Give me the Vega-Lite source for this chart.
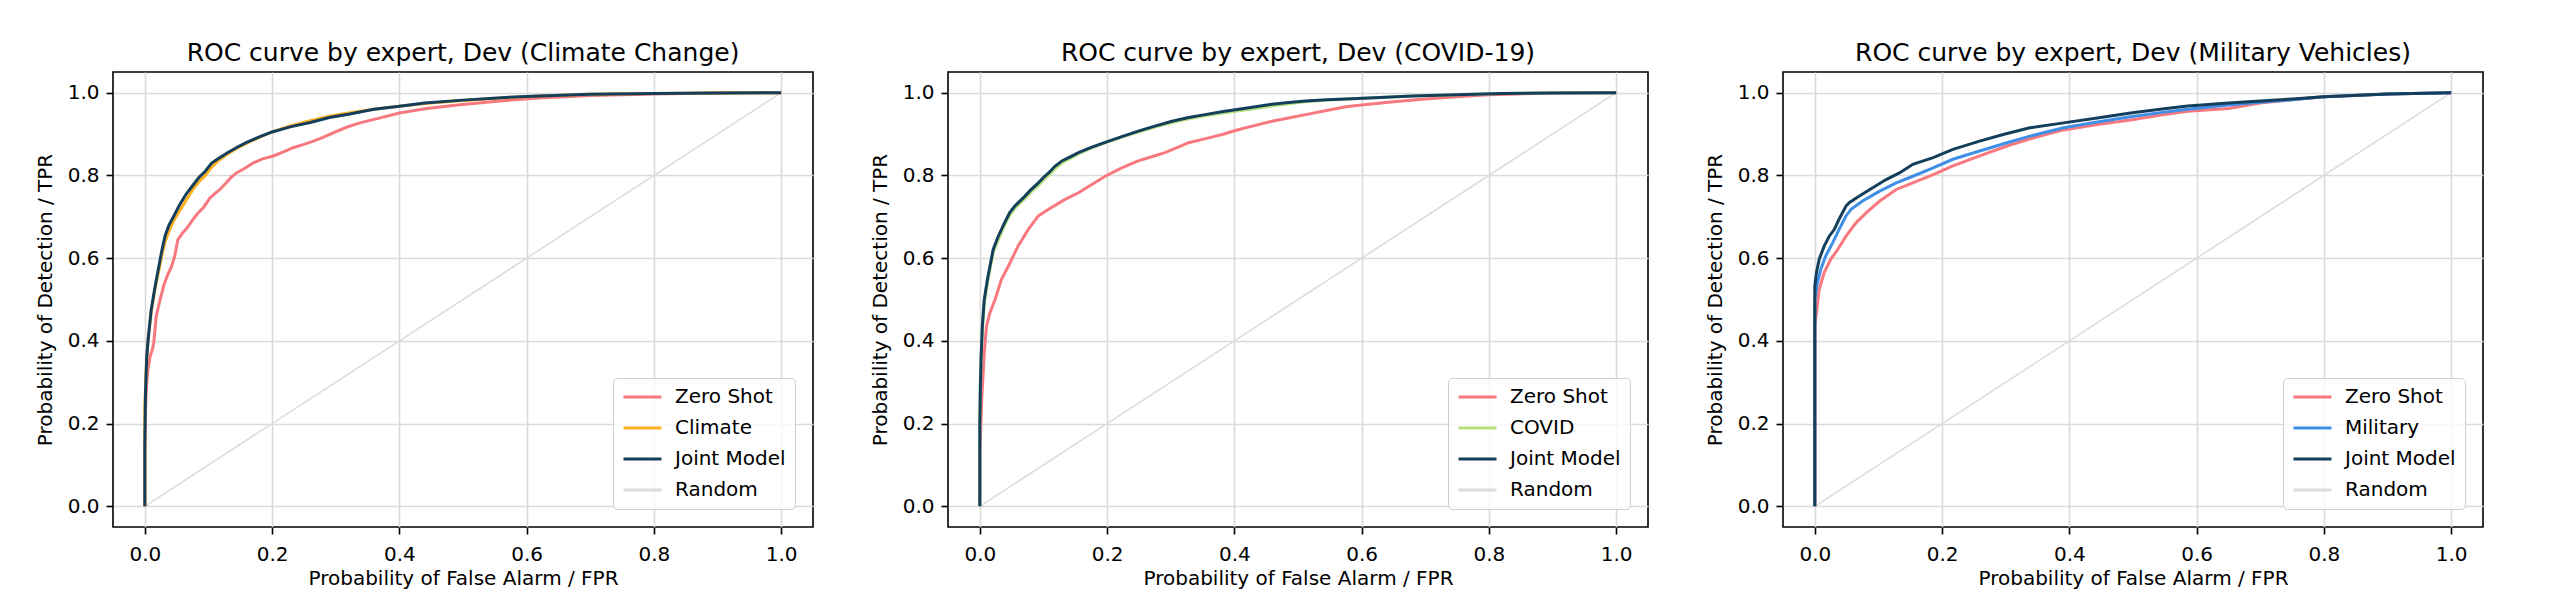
{
"$schema": "https://vega.github.io/schema/vega-lite/v6.json",
"padding": {"left": 34, "top": 40, "right": 86, "bottom": 12},
"background": "white",
"spacing": 135,
"bounds": "flush",
"config": {
  "font": "DejaVu Sans",
  "view": {"stroke": "#000000", "strokeWidth": 1.6},
  "title": {"font": "DejaVu Sans", "fontSize": 25, "fontWeight": "normal", "color": "#000000", "anchor": "middle", "baseline": "alphabetic", "offset": 6},
  "axis": {"labelFont": "DejaVu Sans", "labelFontSize": 20, "labelColor": "#000000", "titleFont": "DejaVu Sans", "titleFontSize": 20, "titleFontWeight": "normal", "titleColor": "#000000", "domain": false, "tickColor": "#000000", "tickWidth": 1.6, "tickSize": 7, "labelPadding": 7, "gridColor": "#dadada", "gridWidth": 1.6},
  "axisX": {"titlePadding": 4, "labelPadding": 10},
  "axisY": {"titlePadding": 12},
  "legend": {"title": null, "orient": "bottom-right", "offset": 18, "symbolType": "stroke", "symbolSize": 1444, "symbolStrokeWidth": 3, "labelFont": "DejaVu Sans", "labelFontSize": 20, "labelColor": "#000000", "padding": 9, "rowPadding": 11, "clipHeight": 20, "labelOffset": 12, "fillColor": "rgba(255,255,255,0.8)", "strokeColor": "#d0d0d0", "cornerRadius": 4}
},
"datasets": {
"climate": [
{"model":"Random","fpr":0,"tpr":0},{"model":"Random","fpr":1,"tpr":1},
{"model":"Zero Shot","fpr":0,"tpr":0},{"model":"Zero Shot","fpr":0,"tpr":0.12},{"model":"Zero Shot","fpr":0.001,"tpr":0.23},{"model":"Zero Shot","fpr":0.003,"tpr":0.3},{"model":"Zero Shot","fpr":0.005,"tpr":0.33},{"model":"Zero Shot","fpr":0.008,"tpr":0.36},{"model":"Zero Shot","fpr":0.012,"tpr":0.38},{"model":"Zero Shot","fpr":0.014,"tpr":0.395},{"model":"Zero Shot","fpr":0.018,"tpr":0.46},{"model":"Zero Shot","fpr":0.024,"tpr":0.5},{"model":"Zero Shot","fpr":0.03,"tpr":0.535},{"model":"Zero Shot","fpr":0.036,"tpr":0.56},{"model":"Zero Shot","fpr":0.042,"tpr":0.58},{"model":"Zero Shot","fpr":0.047,"tpr":0.605},{"model":"Zero Shot","fpr":0.052,"tpr":0.645},{"model":"Zero Shot","fpr":0.06,"tpr":0.662},{"model":"Zero Shot","fpr":0.066,"tpr":0.672},{"model":"Zero Shot","fpr":0.076,"tpr":0.694},{"model":"Zero Shot","fpr":0.084,"tpr":0.71},{"model":"Zero Shot","fpr":0.092,"tpr":0.722},{"model":"Zero Shot","fpr":0.102,"tpr":0.745},{"model":"Zero Shot","fpr":0.11,"tpr":0.756},{"model":"Zero Shot","fpr":0.118,"tpr":0.766},{"model":"Zero Shot","fpr":0.128,"tpr":0.782},{"model":"Zero Shot","fpr":0.136,"tpr":0.796},{"model":"Zero Shot","fpr":0.144,"tpr":0.806},{"model":"Zero Shot","fpr":0.158,"tpr":0.818},{"model":"Zero Shot","fpr":0.17,"tpr":0.83},{"model":"Zero Shot","fpr":0.185,"tpr":0.84},{"model":"Zero Shot","fpr":0.202,"tpr":0.847},{"model":"Zero Shot","fpr":0.218,"tpr":0.857},{"model":"Zero Shot","fpr":0.233,"tpr":0.867},{"model":"Zero Shot","fpr":0.25,"tpr":0.875},{"model":"Zero Shot","fpr":0.265,"tpr":0.883},{"model":"Zero Shot","fpr":0.28,"tpr":0.892},{"model":"Zero Shot","fpr":0.296,"tpr":0.903},{"model":"Zero Shot","fpr":0.318,"tpr":0.917},{"model":"Zero Shot","fpr":0.338,"tpr":0.927},{"model":"Zero Shot","fpr":0.37,"tpr":0.939},{"model":"Zero Shot","fpr":0.4,"tpr":0.951},{"model":"Zero Shot","fpr":0.443,"tpr":0.962},{"model":"Zero Shot","fpr":0.495,"tpr":0.971},{"model":"Zero Shot","fpr":0.558,"tpr":0.98},{"model":"Zero Shot","fpr":0.62,"tpr":0.987},{"model":"Zero Shot","fpr":0.7,"tpr":0.993},{"model":"Zero Shot","fpr":0.8,"tpr":0.997},{"model":"Zero Shot","fpr":0.9,"tpr":0.999},{"model":"Zero Shot","fpr":1,"tpr":1},
{"model":"Climate","fpr":0,"tpr":0},{"model":"Climate","fpr":0,"tpr":0.24},{"model":"Climate","fpr":0.002,"tpr":0.33},{"model":"Climate","fpr":0.005,"tpr":0.4},{"model":"Climate","fpr":0.01,"tpr":0.47},{"model":"Climate","fpr":0.016,"tpr":0.525},{"model":"Climate","fpr":0.022,"tpr":0.57},{"model":"Climate","fpr":0.027,"tpr":0.61},{"model":"Climate","fpr":0.032,"tpr":0.64},{"model":"Climate","fpr":0.038,"tpr":0.665},{"model":"Climate","fpr":0.045,"tpr":0.69},{"model":"Climate","fpr":0.055,"tpr":0.715},{"model":"Climate","fpr":0.065,"tpr":0.74},{"model":"Climate","fpr":0.075,"tpr":0.765},{"model":"Climate","fpr":0.085,"tpr":0.785},{"model":"Climate","fpr":0.095,"tpr":0.8},{"model":"Climate","fpr":0.105,"tpr":0.82},{"model":"Climate","fpr":0.115,"tpr":0.835},{"model":"Climate","fpr":0.13,"tpr":0.852},{"model":"Climate","fpr":0.145,"tpr":0.866},{"model":"Climate","fpr":0.16,"tpr":0.878},{"model":"Climate","fpr":0.18,"tpr":0.892},{"model":"Climate","fpr":0.2,"tpr":0.905},{"model":"Climate","fpr":0.23,"tpr":0.92},{"model":"Climate","fpr":0.26,"tpr":0.932},{"model":"Climate","fpr":0.29,"tpr":0.943},{"model":"Climate","fpr":0.32,"tpr":0.951},{"model":"Climate","fpr":0.36,"tpr":0.96},{"model":"Climate","fpr":0.4,"tpr":0.967},{"model":"Climate","fpr":0.44,"tpr":0.974},{"model":"Climate","fpr":0.5,"tpr":0.981},{"model":"Climate","fpr":0.56,"tpr":0.987},{"model":"Climate","fpr":0.62,"tpr":0.992},{"model":"Climate","fpr":0.7,"tpr":0.996},{"model":"Climate","fpr":0.8,"tpr":0.998},{"model":"Climate","fpr":0.9,"tpr":0.999},{"model":"Climate","fpr":1,"tpr":1},
{"model":"Joint Model","fpr":0,"tpr":0},{"model":"Joint Model","fpr":0,"tpr":0.15},{"model":"Joint Model","fpr":0.001,"tpr":0.27},{"model":"Joint Model","fpr":0.003,"tpr":0.36},{"model":"Joint Model","fpr":0.005,"tpr":0.4},{"model":"Joint Model","fpr":0.01,"tpr":0.475},{"model":"Joint Model","fpr":0.016,"tpr":0.53},{"model":"Joint Model","fpr":0.022,"tpr":0.58},{"model":"Joint Model","fpr":0.027,"tpr":0.62},{"model":"Joint Model","fpr":0.032,"tpr":0.655},{"model":"Joint Model","fpr":0.038,"tpr":0.68},{"model":"Joint Model","fpr":0.045,"tpr":0.7},{"model":"Joint Model","fpr":0.055,"tpr":0.73},{"model":"Joint Model","fpr":0.065,"tpr":0.755},{"model":"Joint Model","fpr":0.075,"tpr":0.775},{"model":"Joint Model","fpr":0.085,"tpr":0.795},{"model":"Joint Model","fpr":0.095,"tpr":0.81},{"model":"Joint Model","fpr":0.105,"tpr":0.83},{"model":"Joint Model","fpr":0.115,"tpr":0.84},{"model":"Joint Model","fpr":0.13,"tpr":0.855},{"model":"Joint Model","fpr":0.145,"tpr":0.868},{"model":"Joint Model","fpr":0.16,"tpr":0.88},{"model":"Joint Model","fpr":0.18,"tpr":0.893},{"model":"Joint Model","fpr":0.2,"tpr":0.905},{"model":"Joint Model","fpr":0.23,"tpr":0.918},{"model":"Joint Model","fpr":0.26,"tpr":0.928},{"model":"Joint Model","fpr":0.29,"tpr":0.94},{"model":"Joint Model","fpr":0.32,"tpr":0.948},{"model":"Joint Model","fpr":0.36,"tpr":0.96},{"model":"Joint Model","fpr":0.4,"tpr":0.967},{"model":"Joint Model","fpr":0.44,"tpr":0.975},{"model":"Joint Model","fpr":0.5,"tpr":0.982},{"model":"Joint Model","fpr":0.56,"tpr":0.988},{"model":"Joint Model","fpr":0.62,"tpr":0.992},{"model":"Joint Model","fpr":0.7,"tpr":0.996},{"model":"Joint Model","fpr":0.8,"tpr":0.998},{"model":"Joint Model","fpr":0.9,"tpr":0.999},{"model":"Joint Model","fpr":1,"tpr":1}
],
"covid": [
{"model":"Random","fpr":0,"tpr":0},{"model":"Random","fpr":1,"tpr":1},
{"model":"Zero Shot","fpr":0,"tpr":0},{"model":"Zero Shot","fpr":0,"tpr":0.12},{"model":"Zero Shot","fpr":0.003,"tpr":0.26},{"model":"Zero Shot","fpr":0.007,"tpr":0.371},{"model":"Zero Shot","fpr":0.0105,"tpr":0.436},{"model":"Zero Shot","fpr":0.016,"tpr":0.468},{"model":"Zero Shot","fpr":0.024,"tpr":0.5},{"model":"Zero Shot","fpr":0.034,"tpr":0.549},{"model":"Zero Shot","fpr":0.045,"tpr":0.581},{"model":"Zero Shot","fpr":0.06,"tpr":0.629},{"model":"Zero Shot","fpr":0.076,"tpr":0.669},{"model":"Zero Shot","fpr":0.092,"tpr":0.702},{"model":"Zero Shot","fpr":0.108,"tpr":0.718},{"model":"Zero Shot","fpr":0.134,"tpr":0.742},{"model":"Zero Shot","fpr":0.155,"tpr":0.758},{"model":"Zero Shot","fpr":0.176,"tpr":0.778},{"model":"Zero Shot","fpr":0.197,"tpr":0.798},{"model":"Zero Shot","fpr":0.223,"tpr":0.818},{"model":"Zero Shot","fpr":0.249,"tpr":0.835},{"model":"Zero Shot","fpr":0.27,"tpr":0.845},{"model":"Zero Shot","fpr":0.291,"tpr":0.855},{"model":"Zero Shot","fpr":0.31,"tpr":0.867},{"model":"Zero Shot","fpr":0.328,"tpr":0.879},{"model":"Zero Shot","fpr":0.355,"tpr":0.889},{"model":"Zero Shot","fpr":0.381,"tpr":0.899},{"model":"Zero Shot","fpr":0.407,"tpr":0.911},{"model":"Zero Shot","fpr":0.433,"tpr":0.921},{"model":"Zero Shot","fpr":0.459,"tpr":0.931},{"model":"Zero Shot","fpr":0.485,"tpr":0.939},{"model":"Zero Shot","fpr":0.512,"tpr":0.947},{"model":"Zero Shot","fpr":0.545,"tpr":0.957},{"model":"Zero Shot","fpr":0.575,"tpr":0.966},{"model":"Zero Shot","fpr":0.6,"tpr":0.97},{"model":"Zero Shot","fpr":0.65,"tpr":0.978},{"model":"Zero Shot","fpr":0.7,"tpr":0.985},{"model":"Zero Shot","fpr":0.75,"tpr":0.99},{"model":"Zero Shot","fpr":0.8,"tpr":0.995},{"model":"Zero Shot","fpr":0.9,"tpr":0.999},{"model":"Zero Shot","fpr":1,"tpr":1},
{"model":"COVID","fpr":0,"tpr":0},{"model":"COVID","fpr":0,"tpr":0.2},{"model":"COVID","fpr":0.001,"tpr":0.3},{"model":"COVID","fpr":0.002,"tpr":0.355},{"model":"COVID","fpr":0.004,"tpr":0.43},{"model":"COVID","fpr":0.007,"tpr":0.49},{"model":"COVID","fpr":0.012,"tpr":0.54},{"model":"COVID","fpr":0.016,"tpr":0.574},{"model":"COVID","fpr":0.021,"tpr":0.613},{"model":"COVID","fpr":0.029,"tpr":0.645},{"model":"COVID","fpr":0.039,"tpr":0.68},{"model":"COVID","fpr":0.047,"tpr":0.704},{"model":"COVID","fpr":0.055,"tpr":0.72},{"model":"COVID","fpr":0.063,"tpr":0.732},{"model":"COVID","fpr":0.071,"tpr":0.744},{"model":"COVID","fpr":0.08,"tpr":0.759},{"model":"COVID","fpr":0.092,"tpr":0.776},{"model":"COVID","fpr":0.1,"tpr":0.789},{"model":"COVID","fpr":0.108,"tpr":0.8},{"model":"COVID","fpr":0.118,"tpr":0.816},{"model":"COVID","fpr":0.129,"tpr":0.83},{"model":"COVID","fpr":0.142,"tpr":0.841},{"model":"COVID","fpr":0.155,"tpr":0.852},{"model":"COVID","fpr":0.175,"tpr":0.866},{"model":"COVID","fpr":0.197,"tpr":0.879},{"model":"COVID","fpr":0.222,"tpr":0.892},{"model":"COVID","fpr":0.249,"tpr":0.905},{"model":"COVID","fpr":0.275,"tpr":0.917},{"model":"COVID","fpr":0.302,"tpr":0.928},{"model":"COVID","fpr":0.328,"tpr":0.937},{"model":"COVID","fpr":0.354,"tpr":0.944},{"model":"COVID","fpr":0.38,"tpr":0.95},{"model":"COVID","fpr":0.407,"tpr":0.956},{"model":"COVID","fpr":0.433,"tpr":0.962},{"model":"COVID","fpr":0.459,"tpr":0.968},{"model":"COVID","fpr":0.485,"tpr":0.973},{"model":"COVID","fpr":0.512,"tpr":0.978},{"model":"COVID","fpr":0.545,"tpr":0.982},{"model":"COVID","fpr":0.575,"tpr":0.985},{"model":"COVID","fpr":0.62,"tpr":0.988},{"model":"COVID","fpr":0.68,"tpr":0.992},{"model":"COVID","fpr":0.75,"tpr":0.995},{"model":"COVID","fpr":0.82,"tpr":0.998},{"model":"COVID","fpr":0.9,"tpr":0.999},{"model":"COVID","fpr":1,"tpr":1},
{"model":"Joint Model","fpr":0,"tpr":0},{"model":"Joint Model","fpr":0,"tpr":0.2},{"model":"Joint Model","fpr":0.001,"tpr":0.3},{"model":"Joint Model","fpr":0.002,"tpr":0.36},{"model":"Joint Model","fpr":0.004,"tpr":0.436},{"model":"Joint Model","fpr":0.007,"tpr":0.5},{"model":"Joint Model","fpr":0.012,"tpr":0.549},{"model":"Joint Model","fpr":0.016,"tpr":0.581},{"model":"Joint Model","fpr":0.021,"tpr":0.621},{"model":"Joint Model","fpr":0.029,"tpr":0.653},{"model":"Joint Model","fpr":0.039,"tpr":0.686},{"model":"Joint Model","fpr":0.047,"tpr":0.71},{"model":"Joint Model","fpr":0.055,"tpr":0.726},{"model":"Joint Model","fpr":0.063,"tpr":0.738},{"model":"Joint Model","fpr":0.071,"tpr":0.75},{"model":"Joint Model","fpr":0.08,"tpr":0.765},{"model":"Joint Model","fpr":0.092,"tpr":0.782},{"model":"Joint Model","fpr":0.1,"tpr":0.795},{"model":"Joint Model","fpr":0.108,"tpr":0.806},{"model":"Joint Model","fpr":0.118,"tpr":0.822},{"model":"Joint Model","fpr":0.129,"tpr":0.835},{"model":"Joint Model","fpr":0.142,"tpr":0.845},{"model":"Joint Model","fpr":0.155,"tpr":0.855},{"model":"Joint Model","fpr":0.175,"tpr":0.868},{"model":"Joint Model","fpr":0.197,"tpr":0.88},{"model":"Joint Model","fpr":0.222,"tpr":0.893},{"model":"Joint Model","fpr":0.249,"tpr":0.907},{"model":"Joint Model","fpr":0.275,"tpr":0.919},{"model":"Joint Model","fpr":0.302,"tpr":0.931},{"model":"Joint Model","fpr":0.328,"tpr":0.94},{"model":"Joint Model","fpr":0.354,"tpr":0.947},{"model":"Joint Model","fpr":0.38,"tpr":0.954},{"model":"Joint Model","fpr":0.407,"tpr":0.96},{"model":"Joint Model","fpr":0.433,"tpr":0.966},{"model":"Joint Model","fpr":0.459,"tpr":0.972},{"model":"Joint Model","fpr":0.485,"tpr":0.976},{"model":"Joint Model","fpr":0.512,"tpr":0.98},{"model":"Joint Model","fpr":0.545,"tpr":0.983},{"model":"Joint Model","fpr":0.575,"tpr":0.985},{"model":"Joint Model","fpr":0.62,"tpr":0.988},{"model":"Joint Model","fpr":0.68,"tpr":0.992},{"model":"Joint Model","fpr":0.75,"tpr":0.995},{"model":"Joint Model","fpr":0.82,"tpr":0.998},{"model":"Joint Model","fpr":0.9,"tpr":0.999},{"model":"Joint Model","fpr":1,"tpr":1}
],
"military": [
{"model":"Random","fpr":0,"tpr":0},{"model":"Random","fpr":1,"tpr":1},
{"model":"Zero Shot","fpr":0,"tpr":0},{"model":"Zero Shot","fpr":0,"tpr":0.436},{"model":"Zero Shot","fpr":0.0026,"tpr":0.468},{"model":"Zero Shot","fpr":0.0068,"tpr":0.524},{"model":"Zero Shot","fpr":0.0147,"tpr":0.565},{"model":"Zero Shot","fpr":0.025,"tpr":0.597},{"model":"Zero Shot","fpr":0.036,"tpr":0.621},{"model":"Zero Shot","fpr":0.049,"tpr":0.653},{"model":"Zero Shot","fpr":0.065,"tpr":0.686},{"model":"Zero Shot","fpr":0.081,"tpr":0.71},{"model":"Zero Shot","fpr":0.102,"tpr":0.738},{"model":"Zero Shot","fpr":0.128,"tpr":0.766},{"model":"Zero Shot","fpr":0.154,"tpr":0.782},{"model":"Zero Shot","fpr":0.186,"tpr":0.802},{"model":"Zero Shot","fpr":0.217,"tpr":0.823},{"model":"Zero Shot","fpr":0.259,"tpr":0.847},{"model":"Zero Shot","fpr":0.302,"tpr":0.871},{"model":"Zero Shot","fpr":0.344,"tpr":0.891},{"model":"Zero Shot","fpr":0.391,"tpr":0.91},{"model":"Zero Shot","fpr":0.444,"tpr":0.923},{"model":"Zero Shot","fpr":0.496,"tpr":0.934},{"model":"Zero Shot","fpr":0.549,"tpr":0.947},{"model":"Zero Shot","fpr":0.586,"tpr":0.955},{"model":"Zero Shot","fpr":0.65,"tpr":0.962},{"model":"Zero Shot","fpr":0.7,"tpr":0.975},{"model":"Zero Shot","fpr":0.75,"tpr":0.983},{"model":"Zero Shot","fpr":0.8,"tpr":0.99},{"model":"Zero Shot","fpr":0.9,"tpr":0.997},{"model":"Zero Shot","fpr":1,"tpr":1},
{"model":"Military","fpr":0,"tpr":0},{"model":"Military","fpr":0,"tpr":0.5},{"model":"Military","fpr":0.004,"tpr":0.54},{"model":"Military","fpr":0.0095,"tpr":0.573},{"model":"Military","fpr":0.017,"tpr":0.605},{"model":"Military","fpr":0.028,"tpr":0.637},{"model":"Military","fpr":0.038,"tpr":0.669},{"model":"Military","fpr":0.049,"tpr":0.702},{"model":"Military","fpr":0.057,"tpr":0.718},{"model":"Military","fpr":0.075,"tpr":0.738},{"model":"Military","fpr":0.102,"tpr":0.762},{"model":"Military","fpr":0.128,"tpr":0.782},{"model":"Military","fpr":0.154,"tpr":0.798},{"model":"Military","fpr":0.186,"tpr":0.818},{"model":"Military","fpr":0.217,"tpr":0.839},{"model":"Military","fpr":0.259,"tpr":0.859},{"model":"Military","fpr":0.302,"tpr":0.879},{"model":"Military","fpr":0.338,"tpr":0.895},{"model":"Military","fpr":0.391,"tpr":0.915},{"model":"Military","fpr":0.444,"tpr":0.929},{"model":"Military","fpr":0.496,"tpr":0.942},{"model":"Military","fpr":0.549,"tpr":0.953},{"model":"Military","fpr":0.586,"tpr":0.96},{"model":"Military","fpr":0.65,"tpr":0.97},{"model":"Military","fpr":0.7,"tpr":0.977},{"model":"Military","fpr":0.75,"tpr":0.983},{"model":"Military","fpr":0.8,"tpr":0.99},{"model":"Military","fpr":0.9,"tpr":0.997},{"model":"Military","fpr":1,"tpr":1},
{"model":"Joint Model","fpr":0,"tpr":0},{"model":"Joint Model","fpr":0,"tpr":0.533},{"model":"Joint Model","fpr":0.0026,"tpr":0.565},{"model":"Joint Model","fpr":0.0068,"tpr":0.597},{"model":"Joint Model","fpr":0.0147,"tpr":0.629},{"model":"Joint Model","fpr":0.0226,"tpr":0.653},{"model":"Joint Model","fpr":0.0305,"tpr":0.669},{"model":"Joint Model","fpr":0.038,"tpr":0.694},{"model":"Joint Model","fpr":0.049,"tpr":0.726},{"model":"Joint Model","fpr":0.054,"tpr":0.734},{"model":"Joint Model","fpr":0.07,"tpr":0.75},{"model":"Joint Model","fpr":0.091,"tpr":0.77},{"model":"Joint Model","fpr":0.112,"tpr":0.79},{"model":"Joint Model","fpr":0.133,"tpr":0.806},{"model":"Joint Model","fpr":0.154,"tpr":0.827},{"model":"Joint Model","fpr":0.186,"tpr":0.843},{"model":"Joint Model","fpr":0.217,"tpr":0.863},{"model":"Joint Model","fpr":0.259,"tpr":0.883},{"model":"Joint Model","fpr":0.296,"tpr":0.899},{"model":"Joint Model","fpr":0.338,"tpr":0.915},{"model":"Joint Model","fpr":0.391,"tpr":0.927},{"model":"Joint Model","fpr":0.444,"tpr":0.939},{"model":"Joint Model","fpr":0.496,"tpr":0.951},{"model":"Joint Model","fpr":0.549,"tpr":0.961},{"model":"Joint Model","fpr":0.586,"tpr":0.968},{"model":"Joint Model","fpr":0.65,"tpr":0.975},{"model":"Joint Model","fpr":0.7,"tpr":0.98},{"model":"Joint Model","fpr":0.75,"tpr":0.985},{"model":"Joint Model","fpr":0.8,"tpr":0.99},{"model":"Joint Model","fpr":0.9,"tpr":0.997},{"model":"Joint Model","fpr":1,"tpr":1}
]
},
"hconcat": [
{
 "width": 700, "height": 455,
 "title": "ROC curve by expert, Dev (Climate Change)",
 "data": {"name": "climate"},
 "mark": {"type": "line", "interpolate": "linear"},
 "encoding": {
  "x": {"field": "fpr", "type": "quantitative", "scale": {"domain": [-0.05, 1.05], "nice": false, "zero": false}, "axis": {"title": "Probability of False Alarm / FPR", "values": [0, 0.2, 0.4, 0.6, 0.8, 1], "format": ".1f"}},
  "y": {"field": "tpr", "type": "quantitative", "scale": {"domain": [-0.05, 1.05], "nice": false, "zero": false}, "axis": {"title": "Probability of Detection / TPR", "values": [0, 0.2, 0.4, 0.6, 0.8, 1], "format": ".1f"}},
  "color": {"field": "model", "type": "nominal", "scale": {"domain": ["Zero Shot", "Climate", "Joint Model", "Random"], "range": ["#f7787f", "#ffae1f", "#143f5c", "#dcdcdc"]}},
  "strokeWidth": {"condition": {"test": "datum.model === 'Random'", "value": 1.6}, "value": 3},
  "order": [{"field": "fpr", "type": "quantitative"}, {"field": "tpr", "type": "quantitative"}]
 }
},
{
 "width": 700, "height": 455,
 "title": "ROC curve by expert, Dev (COVID-19)",
 "data": {"name": "covid"},
 "mark": {"type": "line", "interpolate": "linear"},
 "encoding": {
  "x": {"field": "fpr", "type": "quantitative", "scale": {"domain": [-0.05, 1.05], "nice": false, "zero": false}, "axis": {"title": "Probability of False Alarm / FPR", "values": [0, 0.2, 0.4, 0.6, 0.8, 1], "format": ".1f"}},
  "y": {"field": "tpr", "type": "quantitative", "scale": {"domain": [-0.05, 1.05], "nice": false, "zero": false}, "axis": {"title": "Probability of Detection / TPR", "values": [0, 0.2, 0.4, 0.6, 0.8, 1], "format": ".1f"}},
  "color": {"field": "model", "type": "nominal", "scale": {"domain": ["Zero Shot", "COVID", "Joint Model", "Random"], "range": ["#f7787f", "#b5e07a", "#143f5c", "#dcdcdc"]}},
  "strokeWidth": {"condition": {"test": "datum.model === 'Random'", "value": 1.6}, "value": 3},
  "order": [{"field": "fpr", "type": "quantitative"}, {"field": "tpr", "type": "quantitative"}]
 }
},
{
 "width": 700, "height": 455,
 "title": "ROC curve by expert, Dev (Military Vehicles)",
 "data": {"name": "military"},
 "mark": {"type": "line", "interpolate": "linear"},
 "encoding": {
  "x": {"field": "fpr", "type": "quantitative", "scale": {"domain": [-0.05, 1.05], "nice": false, "zero": false}, "axis": {"title": "Probability of False Alarm / FPR", "values": [0, 0.2, 0.4, 0.6, 0.8, 1], "format": ".1f"}},
  "y": {"field": "tpr", "type": "quantitative", "scale": {"domain": [-0.05, 1.05], "nice": false, "zero": false}, "axis": {"title": "Probability of Detection / TPR", "values": [0, 0.2, 0.4, 0.6, 0.8, 1], "format": ".1f"}},
  "color": {"field": "model", "type": "nominal", "scale": {"domain": ["Zero Shot", "Military", "Joint Model", "Random"], "range": ["#f7787f", "#3f8fe6", "#143f5c", "#dcdcdc"]}},
  "strokeWidth": {"condition": {"test": "datum.model === 'Random'", "value": 1.6}, "value": 3},
  "order": [{"field": "fpr", "type": "quantitative"}, {"field": "tpr", "type": "quantitative"}]
 }
}
],
"resolve": {"scale": {"color": "independent", "strokeWidth": "independent"}, "legend": {"color": "independent"}}
}
